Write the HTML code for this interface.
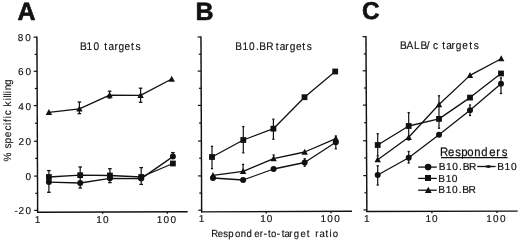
<!DOCTYPE html>
<html><head><meta charset="utf-8">
<style>
html,body{margin:0;padding:0;background:#fff;}
body{width:520px;height:240px;overflow:hidden;}
svg{display:block;}
text{font-family:"Liberation Sans",sans-serif;fill:#111;text-rendering:geometricPrecision;stroke:#111;stroke-width:0.15px;}
.tk{font-size:9.8px;letter-spacing:1.1px;}
.tk2{font-size:10px;}
.pl{font-size:25px;font-weight:bold;stroke:#111;stroke-width:0.6px;}
.ti{font-size:11px;}
.ax{font-size:10.3px;}
.ay{font-size:10.5px;}
.lg0{font-size:12.2px;stroke:#111;stroke-width:0.25px;}
.lg{font-size:10.2px;stroke:#111;stroke-width:0.2px;}
</style></head>
<body>
<svg width="520" height="240" viewBox="0 0 520 240" xmlns="http://www.w3.org/2000/svg">
<defs><filter id="bl" x="0" y="0" width="520" height="240" filterUnits="userSpaceOnUse"><feGaussianBlur stdDeviation="0.0"/></filter></defs>
<rect width="520" height="240" fill="#fff"/>
<g filter="url(#bl)">
<line x1="36.92" y1="36.6" x2="37.65" y2="212.79999999999998" stroke="#111" stroke-width="1.45"/>
<line x1="37.05" y1="212.2" x2="187.7" y2="211.8" stroke="#111" stroke-width="1.45"/>
<line x1="33.52" y1="37.20" x2="36.92" y2="37.20" stroke="#111" stroke-width="1.2"/>
<line x1="34.69" y1="54.40" x2="36.99" y2="54.40" stroke="#111" stroke-width="1.2"/>
<line x1="33.66" y1="71.30" x2="37.06" y2="71.30" stroke="#111" stroke-width="1.2"/>
<line x1="34.83" y1="88.50" x2="37.13" y2="88.50" stroke="#111" stroke-width="1.2"/>
<line x1="33.81" y1="105.60" x2="37.21" y2="105.60" stroke="#111" stroke-width="1.2"/>
<line x1="34.98" y1="123.20" x2="37.28" y2="123.20" stroke="#111" stroke-width="1.2"/>
<line x1="33.95" y1="141.25" x2="37.35" y2="141.25" stroke="#111" stroke-width="1.2"/>
<line x1="35.13" y1="158.40" x2="37.43" y2="158.40" stroke="#111" stroke-width="1.2"/>
<line x1="34.10" y1="176.10" x2="37.50" y2="176.10" stroke="#111" stroke-width="1.2"/>
<line x1="35.27" y1="193.30" x2="37.57" y2="193.30" stroke="#111" stroke-width="1.2"/>
<line x1="34.24" y1="210.40" x2="37.64" y2="210.40" stroke="#111" stroke-width="1.2"/>
<line x1="102.7" y1="212.03" x2="102.7" y2="213.83" stroke="#111" stroke-width="1.3"/>
<line x1="167.3" y1="211.85" x2="167.3" y2="213.65" stroke="#111" stroke-width="1.3"/>
<line x1="200.97" y1="36.4" x2="201.65" y2="212.5" stroke="#111" stroke-width="1.45"/>
<line x1="201.05" y1="211.9" x2="352.0" y2="211.3" stroke="#111" stroke-width="1.45"/>
<line x1="197.57" y1="37.00" x2="200.97" y2="37.00" stroke="#111" stroke-width="1.2"/>
<line x1="198.74" y1="54.20" x2="201.04" y2="54.20" stroke="#111" stroke-width="1.2"/>
<line x1="197.70" y1="71.10" x2="201.10" y2="71.10" stroke="#111" stroke-width="1.2"/>
<line x1="198.87" y1="88.30" x2="201.17" y2="88.30" stroke="#111" stroke-width="1.2"/>
<line x1="197.84" y1="105.40" x2="201.24" y2="105.40" stroke="#111" stroke-width="1.2"/>
<line x1="199.00" y1="123.00" x2="201.30" y2="123.00" stroke="#111" stroke-width="1.2"/>
<line x1="197.97" y1="141.05" x2="201.37" y2="141.05" stroke="#111" stroke-width="1.2"/>
<line x1="199.14" y1="158.20" x2="201.44" y2="158.20" stroke="#111" stroke-width="1.2"/>
<line x1="198.11" y1="175.90" x2="201.51" y2="175.90" stroke="#111" stroke-width="1.2"/>
<line x1="199.28" y1="193.10" x2="201.58" y2="193.10" stroke="#111" stroke-width="1.2"/>
<line x1="198.24" y1="210.20" x2="201.64" y2="210.20" stroke="#111" stroke-width="1.2"/>
<line x1="266.2" y1="211.64" x2="266.2" y2="213.44" stroke="#111" stroke-width="1.3"/>
<line x1="331.0" y1="211.38" x2="331.0" y2="213.18" stroke="#111" stroke-width="1.3"/>
<line x1="365.96" y1="36.1" x2="366.87" y2="212.1" stroke="#111" stroke-width="1.45"/>
<line x1="366.27" y1="211.5" x2="517.7" y2="211.1" stroke="#111" stroke-width="1.45"/>
<line x1="362.56" y1="36.70" x2="365.96" y2="36.70" stroke="#111" stroke-width="1.2"/>
<line x1="363.75" y1="53.90" x2="366.05" y2="53.90" stroke="#111" stroke-width="1.2"/>
<line x1="362.74" y1="70.80" x2="366.14" y2="70.80" stroke="#111" stroke-width="1.2"/>
<line x1="363.93" y1="88.00" x2="366.23" y2="88.00" stroke="#111" stroke-width="1.2"/>
<line x1="362.92" y1="105.10" x2="366.32" y2="105.10" stroke="#111" stroke-width="1.2"/>
<line x1="364.11" y1="122.70" x2="366.41" y2="122.70" stroke="#111" stroke-width="1.2"/>
<line x1="363.10" y1="140.75" x2="366.50" y2="140.75" stroke="#111" stroke-width="1.2"/>
<line x1="364.29" y1="157.90" x2="366.59" y2="157.90" stroke="#111" stroke-width="1.2"/>
<line x1="363.28" y1="175.60" x2="366.68" y2="175.60" stroke="#111" stroke-width="1.2"/>
<line x1="364.47" y1="192.80" x2="366.77" y2="192.80" stroke="#111" stroke-width="1.2"/>
<line x1="363.46" y1="209.90" x2="366.86" y2="209.90" stroke="#111" stroke-width="1.2"/>
<line x1="431.9" y1="211.33" x2="431.9" y2="213.13" stroke="#111" stroke-width="1.3"/>
<line x1="496.9" y1="211.16" x2="496.9" y2="212.96" stroke="#111" stroke-width="1.3"/>
<text transform="translate(0 222.7) scale(1 1)" x="34.84" y="0" class="tk2" >1</text>
<text transform="translate(0 222.7) scale(1 1)" x="96.24 102.91" y="0" class="tk2" >10</text>
<text transform="translate(0 222.7) scale(1 1)" x="156.74 163.51 170.51" y="0" class="tk2" >100</text>
<text transform="translate(0 222.4) scale(1 1)" x="198.64" y="0" class="tk2" >1</text>
<text transform="translate(0 222.4) scale(1 1)" x="260.14 266.81" y="0" class="tk2" >10</text>
<text transform="translate(0 222.4) scale(1 1)" x="320.44 327.21 334.21" y="0" class="tk2" >100</text>
<text transform="translate(0 222.2) scale(1 1)" x="364.04" y="0" class="tk2" >1</text>
<text transform="translate(0 222.2) scale(1 1)" x="425.44 432.11" y="0" class="tk2" >10</text>
<text transform="translate(0 222.2) scale(1 1)" x="486.34 493.11 500.11" y="0" class="tk2" >100</text>
<text transform="translate(0 40.5) scale(1 1)" x="17.67 25.21" y="0" class="tk2" >80</text>
<text transform="translate(0 75.3) scale(1 1)" x="17.89 25.61" y="0" class="tk2" >60</text>
<text transform="translate(0 110.0) scale(1 1)" x="18.17 25.61" y="0" class="tk2" >40</text>
<text transform="translate(0 145.0) scale(1 1)" x="18.50 25.61" y="0" class="tk2" >20</text>
<text transform="translate(0 179.6) scale(1 1)" x="25.61" y="0" class="tk2" >0</text>
<text transform="translate(0 214.1) scale(1 1)" x="14.56 18.50 25.41" y="0" class="tk2" >-20</text>
<text x="17.4" y="19.6" class="pl">A</text>
<text x="195.6" y="19.6" class="pl">B</text>
<text x="361.9" y="19.3" class="pl" style="font-size:24.3px">C</text>
<text transform="translate(0 49.8) scale(0.92 1)" x="86.92 94.16 101.64 107.75 113.42 117.90 124.38 128.78 135.46 142.44 147.41" y="0" class="ti" >B10 targets</text>
<text transform="translate(0 49.6) scale(0.92 1)" x="255.84 263.73 270.55 278.13 281.92 289.42 297.37 299.62 304.10 310.03 315.03 321.82 328.53 333.50" y="0" class="ti" >B10.BR targets</text>
<text transform="translate(0 48.9) scale(0.92 1)" x="434.75 441.72 450.08 457.14 463.91 470.62 476.12 480.70 485.18 490.79 495.46 502.58 510.05 515.02" y="0" class="ti" >BALB/c targets</text>
<text transform="translate(0 236.8) scale(0.93 1)" x="227.11 234.19 239.93 245.57 252.79 258.78 264.94 273.43 279.32 283.52 288.23 291.40 297.71 302.96 305.80 311.04 315.97 323.22 329.74 332.60 338.89 343.43 350.06 354.36 357.85" y="0" class="ax" >Responder-to-target ratio</text>
<text transform="translate(10.8 170.0) rotate(-90) scale(0.95 1)" x="8.84 18.17 22.55 27.85 34.55 41.55 47.46 50.64 54.46 57.76 63.01 66.77 73.30 76.40 78.56 80.77 83.83 89.35" y="0" class="ay">% specific killing</text>
<polyline points="48.90,112.30 79.40,108.80 109.60,95.20 140.60,95.30 171.70,79.00" fill="none" stroke="#111" stroke-width="1.3" stroke-linejoin="round"/>
<polyline points="48.90,177.00 80.20,175.20 109.90,175.50 141.20,177.00 172.90,163.50" fill="none" stroke="#111" stroke-width="1.3" stroke-linejoin="round"/>
<polyline points="48.90,182.10 80.20,183.00 109.90,178.30 141.20,178.60 172.90,156.60" fill="none" stroke="#111" stroke-width="1.3" stroke-linejoin="round"/>
<line x1="79.40" y1="102.00" x2="79.40" y2="113.60" stroke="#111" stroke-width="1.2"/>
<line x1="77.60" y1="102.00" x2="81.20" y2="102.00" stroke="#111" stroke-width="1.3"/>
<line x1="77.60" y1="113.60" x2="81.20" y2="113.60" stroke="#111" stroke-width="1.3"/>
<line x1="109.60" y1="91.20" x2="109.60" y2="98.00" stroke="#111" stroke-width="1.2"/>
<line x1="107.80" y1="91.20" x2="111.40" y2="91.20" stroke="#111" stroke-width="1.3"/>
<line x1="107.80" y1="98.00" x2="111.40" y2="98.00" stroke="#111" stroke-width="1.3"/>
<line x1="140.60" y1="88.20" x2="140.60" y2="102.30" stroke="#111" stroke-width="1.2"/>
<line x1="138.80" y1="88.20" x2="142.40" y2="88.20" stroke="#111" stroke-width="1.3"/>
<line x1="138.80" y1="102.30" x2="142.40" y2="102.30" stroke="#111" stroke-width="1.3"/>
<line x1="48.90" y1="170.60" x2="48.90" y2="192.30" stroke="#111" stroke-width="1.2"/>
<line x1="47.10" y1="170.60" x2="50.70" y2="170.60" stroke="#111" stroke-width="1.3"/>
<line x1="47.10" y1="192.30" x2="50.70" y2="192.30" stroke="#111" stroke-width="1.3"/>
<line x1="80.20" y1="167.00" x2="80.20" y2="188.00" stroke="#111" stroke-width="1.2"/>
<line x1="78.40" y1="167.00" x2="82.00" y2="167.00" stroke="#111" stroke-width="1.3"/>
<line x1="78.40" y1="188.00" x2="82.00" y2="188.00" stroke="#111" stroke-width="1.3"/>
<line x1="109.90" y1="168.70" x2="109.90" y2="182.60" stroke="#111" stroke-width="1.2"/>
<line x1="108.10" y1="168.70" x2="111.70" y2="168.70" stroke="#111" stroke-width="1.3"/>
<line x1="108.10" y1="182.60" x2="111.70" y2="182.60" stroke="#111" stroke-width="1.3"/>
<line x1="141.20" y1="167.60" x2="141.20" y2="184.40" stroke="#111" stroke-width="1.2"/>
<line x1="139.40" y1="167.60" x2="143.00" y2="167.60" stroke="#111" stroke-width="1.3"/>
<line x1="139.40" y1="184.40" x2="143.00" y2="184.40" stroke="#111" stroke-width="1.3"/>
<line x1="172.90" y1="152.60" x2="172.90" y2="158.00" stroke="#111" stroke-width="1.2"/>
<line x1="171.10" y1="152.60" x2="174.70" y2="152.60" stroke="#111" stroke-width="1.3"/>
<line x1="171.10" y1="158.00" x2="174.70" y2="158.00" stroke="#111" stroke-width="1.3"/>
<path d="M48.90 108.94 L52.10 114.94 L45.70 114.94 Z" fill="#111"/>
<path d="M79.40 105.44 L82.60 111.44 L76.20 111.44 Z" fill="#111"/>
<path d="M109.60 91.84 L112.80 97.84 L106.40 97.84 Z" fill="#111"/>
<path d="M140.60 91.94 L143.80 97.94 L137.40 97.94 Z" fill="#111"/>
<path d="M171.70 75.64 L174.90 81.64 L168.50 81.64 Z" fill="#111"/>
<rect x="46.00" y="174.10" width="5.8" height="5.8" fill="#111"/>
<rect x="77.30" y="172.30" width="5.8" height="5.8" fill="#111"/>
<rect x="107.00" y="172.60" width="5.8" height="5.8" fill="#111"/>
<rect x="138.30" y="174.10" width="5.8" height="5.8" fill="#111"/>
<rect x="170.00" y="160.60" width="5.8" height="5.8" fill="#111"/>
<circle cx="48.90" cy="182.10" r="3.0" fill="#111"/>
<circle cx="80.20" cy="183.00" r="3.0" fill="#111"/>
<circle cx="109.90" cy="178.30" r="3.0" fill="#111"/>
<circle cx="141.20" cy="178.60" r="3.0" fill="#111"/>
<circle cx="172.90" cy="156.60" r="3.0" fill="#111"/>
<polyline points="212.00,157.00 243.30,140.00 273.40,128.70 304.50,97.20 335.20,71.50" fill="none" stroke="#111" stroke-width="1.3" stroke-linejoin="round"/>
<polyline points="213.00,175.30 243.10,171.30 273.60,158.70 304.70,152.00 335.80,138.60" fill="none" stroke="#111" stroke-width="1.3" stroke-linejoin="round"/>
<polyline points="213.00,178.00 243.10,180.00 273.60,169.00 304.70,162.50 335.80,142.30" fill="none" stroke="#111" stroke-width="1.3" stroke-linejoin="round"/>
<line x1="212.00" y1="146.30" x2="212.00" y2="168.60" stroke="#111" stroke-width="1.2"/>
<line x1="210.90" y1="146.30" x2="213.10" y2="146.30" stroke="#111" stroke-width="1.3"/>
<line x1="210.90" y1="168.60" x2="213.10" y2="168.60" stroke="#111" stroke-width="1.3"/>
<line x1="243.30" y1="126.60" x2="243.30" y2="152.80" stroke="#111" stroke-width="1.2"/>
<line x1="242.20" y1="126.60" x2="244.40" y2="126.60" stroke="#111" stroke-width="1.3"/>
<line x1="242.20" y1="152.80" x2="244.40" y2="152.80" stroke="#111" stroke-width="1.3"/>
<line x1="273.40" y1="119.20" x2="273.40" y2="139.20" stroke="#111" stroke-width="1.2"/>
<line x1="272.30" y1="119.20" x2="274.50" y2="119.20" stroke="#111" stroke-width="1.3"/>
<line x1="272.30" y1="139.20" x2="274.50" y2="139.20" stroke="#111" stroke-width="1.3"/>
<line x1="243.10" y1="164.40" x2="243.10" y2="173.00" stroke="#111" stroke-width="1.2"/>
<line x1="242.00" y1="164.40" x2="244.20" y2="164.40" stroke="#111" stroke-width="1.3"/>
<line x1="242.00" y1="173.00" x2="244.20" y2="173.00" stroke="#111" stroke-width="1.3"/>
<line x1="273.60" y1="155.00" x2="273.60" y2="160.00" stroke="#111" stroke-width="1.2"/>
<line x1="272.50" y1="155.00" x2="274.70" y2="155.00" stroke="#111" stroke-width="1.3"/>
<line x1="272.50" y1="160.00" x2="274.70" y2="160.00" stroke="#111" stroke-width="1.3"/>
<line x1="304.70" y1="158.80" x2="304.70" y2="166.20" stroke="#111" stroke-width="1.2"/>
<line x1="303.60" y1="158.80" x2="305.80" y2="158.80" stroke="#111" stroke-width="1.3"/>
<line x1="303.60" y1="166.20" x2="305.80" y2="166.20" stroke="#111" stroke-width="1.3"/>
<line x1="335.80" y1="136.00" x2="335.80" y2="148.80" stroke="#111" stroke-width="1.2"/>
<line x1="334.70" y1="136.00" x2="336.90" y2="136.00" stroke="#111" stroke-width="1.3"/>
<line x1="334.70" y1="148.80" x2="336.90" y2="148.80" stroke="#111" stroke-width="1.3"/>
<rect x="209.10" y="154.10" width="5.8" height="5.8" fill="#111"/>
<rect x="240.40" y="137.10" width="5.8" height="5.8" fill="#111"/>
<rect x="270.50" y="125.80" width="5.8" height="5.8" fill="#111"/>
<rect x="301.60" y="94.30" width="5.8" height="5.8" fill="#111"/>
<rect x="332.30" y="68.60" width="5.8" height="5.8" fill="#111"/>
<path d="M213.00 171.94 L216.20 177.94 L209.80 177.94 Z" fill="#111"/>
<path d="M243.10 167.94 L246.30 173.94 L239.90 173.94 Z" fill="#111"/>
<path d="M273.60 155.34 L276.80 161.34 L270.40 161.34 Z" fill="#111"/>
<path d="M304.70 148.64 L307.90 154.64 L301.50 154.64 Z" fill="#111"/>
<path d="M335.80 135.24 L339.00 141.24 L332.60 141.24 Z" fill="#111"/>
<circle cx="213.00" cy="178.00" r="3.0" fill="#111"/>
<circle cx="243.10" cy="180.00" r="3.0" fill="#111"/>
<circle cx="273.60" cy="169.00" r="3.0" fill="#111"/>
<circle cx="304.70" cy="162.50" r="3.0" fill="#111"/>
<circle cx="335.80" cy="142.30" r="3.0" fill="#111"/>
<polyline points="377.70,145.00 408.70,126.00 439.00,118.90 470.00,97.60 501.00,73.50" fill="none" stroke="#111" stroke-width="1.3" stroke-linejoin="round"/>
<polyline points="377.70,159.70 408.70,137.30 439.00,104.50 470.00,75.40 501.20,58.70" fill="none" stroke="#111" stroke-width="1.3" stroke-linejoin="round"/>
<polyline points="377.70,175.00 408.70,157.70 439.00,134.80 470.00,110.30 501.00,83.70" fill="none" stroke="#111" stroke-width="1.3" stroke-linejoin="round"/>
<line x1="377.70" y1="133.80" x2="377.70" y2="156.00" stroke="#111" stroke-width="1.2"/>
<line x1="376.60" y1="133.80" x2="378.80" y2="133.80" stroke="#111" stroke-width="1.3"/>
<line x1="376.60" y1="156.00" x2="378.80" y2="156.00" stroke="#111" stroke-width="1.3"/>
<line x1="408.70" y1="112.60" x2="408.70" y2="140.00" stroke="#111" stroke-width="1.2"/>
<line x1="407.60" y1="112.60" x2="409.80" y2="112.60" stroke="#111" stroke-width="1.3"/>
<line x1="407.60" y1="140.00" x2="409.80" y2="140.00" stroke="#111" stroke-width="1.3"/>
<line x1="439.00" y1="95.80" x2="439.00" y2="128.20" stroke="#111" stroke-width="1.2"/>
<line x1="437.90" y1="95.80" x2="440.10" y2="95.80" stroke="#111" stroke-width="1.3"/>
<line x1="437.90" y1="128.20" x2="440.10" y2="128.20" stroke="#111" stroke-width="1.3"/>
<line x1="377.70" y1="165.80" x2="377.70" y2="185.00" stroke="#111" stroke-width="1.2"/>
<line x1="376.60" y1="165.80" x2="378.80" y2="165.80" stroke="#111" stroke-width="1.3"/>
<line x1="376.60" y1="185.00" x2="378.80" y2="185.00" stroke="#111" stroke-width="1.3"/>
<line x1="408.70" y1="151.50" x2="408.70" y2="163.00" stroke="#111" stroke-width="1.2"/>
<line x1="407.60" y1="151.50" x2="409.80" y2="151.50" stroke="#111" stroke-width="1.3"/>
<line x1="407.60" y1="163.00" x2="409.80" y2="163.00" stroke="#111" stroke-width="1.3"/>
<line x1="470.00" y1="105.00" x2="470.00" y2="115.50" stroke="#111" stroke-width="1.2"/>
<line x1="468.90" y1="105.00" x2="471.10" y2="105.00" stroke="#111" stroke-width="1.3"/>
<line x1="468.90" y1="115.50" x2="471.10" y2="115.50" stroke="#111" stroke-width="1.3"/>
<line x1="501.00" y1="78.00" x2="501.00" y2="93.50" stroke="#111" stroke-width="1.2"/>
<line x1="499.90" y1="78.00" x2="502.10" y2="78.00" stroke="#111" stroke-width="1.3"/>
<line x1="499.90" y1="93.50" x2="502.10" y2="93.50" stroke="#111" stroke-width="1.3"/>
<rect x="374.80" y="142.10" width="5.8" height="5.8" fill="#111"/>
<rect x="405.80" y="123.10" width="5.8" height="5.8" fill="#111"/>
<rect x="436.10" y="116.00" width="5.8" height="5.8" fill="#111"/>
<rect x="467.10" y="94.70" width="5.8" height="5.8" fill="#111"/>
<rect x="498.10" y="70.60" width="5.8" height="5.8" fill="#111"/>
<path d="M377.70 156.34 L380.90 162.34 L374.50 162.34 Z" fill="#111"/>
<path d="M408.70 133.94 L411.90 139.94 L405.50 139.94 Z" fill="#111"/>
<path d="M439.00 101.14 L442.20 107.14 L435.80 107.14 Z" fill="#111"/>
<path d="M470.00 72.04 L473.20 78.04 L466.80 78.04 Z" fill="#111"/>
<path d="M501.20 55.34 L504.40 61.34 L498.00 61.34 Z" fill="#111"/>
<circle cx="377.70" cy="175.00" r="3.0" fill="#111"/>
<circle cx="408.70" cy="157.70" r="3.0" fill="#111"/>
<circle cx="439.00" cy="134.80" r="3.0" fill="#111"/>
<circle cx="470.00" cy="110.30" r="3.0" fill="#111"/>
<circle cx="501.00" cy="83.70" r="3.0" fill="#111"/>
<text transform="translate(0 156.3) scale(0.93 1)" x="473.19 481.85 489.45 495.99 502.39 509.84 517.39 526.04 533.49 539.45" y="0" class="lg0" >Responders</text>
<line x1="441" y1="157.6" x2="507.6" y2="157.6" stroke="#111" stroke-width="1.2"/>
<line x1="418.2" y1="167.1" x2="436.8" y2="167.1" stroke="#111" stroke-width="1.3"/>
<line x1="418.2" y1="178.4" x2="436.8" y2="178.4" stroke="#111" stroke-width="1.3"/>
<line x1="418.2" y1="190.2" x2="436.8" y2="190.2" stroke="#111" stroke-width="1.3"/>
<circle cx="428.10" cy="167.10" r="3.3" fill="#111"/>
<rect x="425.00" y="175.00" width="6.0" height="6.0" fill="#111"/>
<path d="M428.30 186.73 L431.70 192.93 L424.90 192.93 Z" fill="#111"/>
<text transform="translate(0 170.3) scale(1 1)" x="438.66 446.02 452.20 458.97 462.76 469.06" y="0" class="lg" >B10.BR</text>
<text transform="translate(0 181.6) scale(1 1)" x="438.36 445.82 451.80" y="0" class="lg" >B10</text>
<text transform="translate(0 193.0) scale(1 1)" x="438.36 445.82 451.90 458.87 462.16 468.56" y="0" class="lg" >B10.BR</text>
<line x1="477.2" y1="166.5" x2="495.6" y2="166.5" stroke="#111" stroke-width="1.3"/>
<path d="M483.3 166.5 L488.3 165.0 L493.6 166.5 L488.3 168.0 Z" fill="#111"/>
<text transform="translate(0 170.0) scale(1 1)" x="497.26 504.52 511.10" y="0" class="lg" >B10</text>
</g>
</svg>
</body></html>
